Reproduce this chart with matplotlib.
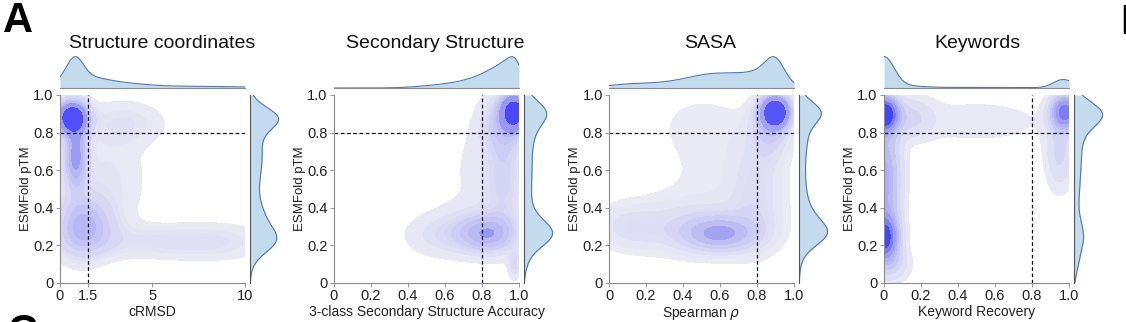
import numpy as np
import matplotlib.pyplot as plt
from matplotlib.colors import LinearSegmentedColormap

plt.rcParams['font.family'] = ['Liberation Sans', 'DejaVu Sans']

W, H = 1126, 322

titles = ['Structure coordinates', 'Secondary Structure', 'SASA', 'Keywords']
xlabels = ['cRMSD', '3-class Secondary Structure Accuracy', r'Spearman $\rho$', 'Keyword Recovery']
xlims = [(0, 10), (0, 1), (0, 1), (0, 1)]
xticks = [[0, 1.5, 5, 10]] + [[0, 0.2, 0.4, 0.6, 0.8, 1.0]] * 3
xticklabels = [['0', '1.5', '5', '10']] + [['0', '0.2', '0.4', '0.6', '0.8', '1.0']] * 3
yticks = [0, 0.2, 0.4, 0.6, 0.8, 1.0]
yticklabels = ['0', '0.2', '0.4', '0.6', '0.8', '1.0']
vcut = [1.5, 0.8, 0.8, 0.8]
hcut = 0.8

# density blobs: x, y, sx, sy, weight
coords_mix = [
    (0.65, 0.88, 0.55, 0.055, 0.16),
    (0.85, 0.68, 0.40, 0.12, 0.12),
    (1.5, 0.30, 1.00, 0.10, 0.14),
    (2.5, 0.55, 1.50, 0.18, 0.12),
    (5.0, 0.22, 3.00, 0.06, 0.09),
    (8.5, 0.22, 2.00, 0.07, 0.05),
    (3.5, 0.85, 1.50, 0.08, 0.06),
    (0.9, 0.30, 0.80, 0.12, 0.06),
]
ss_mix = [
    (0.975, 0.91, 0.045, 0.06, 0.16),
    (0.92, 0.85, 0.08, 0.10, 0.12),
    (0.83, 0.26, 0.10, 0.065, 0.13),
    (0.72, 0.28, 0.15, 0.09, 0.10),
    (0.92, 0.55, 0.07, 0.20, 0.14),
    (0.80, 0.60, 0.12, 0.18, 0.08),
    (0.55, 0.25, 0.12, 0.07, 0.04),
    (0.975, 0.10, 0.02, 0.05, 0.01),
]
sasa_mix = [
    (0.90, 0.91, 0.05, 0.055, 0.14),
    (0.87, 0.82, 0.07, 0.10, 0.07),
    (0.60, 0.26, 0.13, 0.06, 0.13),
    (0.45, 0.30, 0.25, 0.10, 0.16),
    (0.80, 0.50, 0.10, 0.20, 0.12),
    (0.55, 0.60, 0.20, 0.20, 0.08),
    (0.10, 0.30, 0.12, 0.08, 0.04),
    (0.50, 0.85, 0.15, 0.10, 0.03),
]
kw_mix = [
    (0.00, 0.90, 0.05, 0.06, 0.18),
    (0.00, 0.24, 0.05, 0.08, 0.20),
    (0.00, 0.55, 0.06, 0.22, 0.36),
    (0.98, 0.91, 0.05, 0.06, 0.13),
    (0.95, 0.70, 0.05, 0.13, 0.07),
    (0.50, 0.86, 0.30, 0.09, 0.09),
    (0.15, 0.88, 0.08, 0.07, 0.05),
    (0.05, 0.10, 0.06, 0.06, 0.03),
]
mixes = [coords_mix, ss_mix, sasa_mix, kw_mix]

lefts = [60, 334, 609, 884]
title_x = [162, 435, 710, 977]

cmap = LinearSegmentedColormap.from_list('blu', ['#ececf5', '#9a9af2', '#2020ff'])
fill_c = '#c4dbee'
line_c = '#4a7ab0'
spine_c = '#8a8a8a'


def px(x0, y0, w, h):
    return [x0 / W, 1 - (y0 + h) / H, w / W, h / H]


def density(mix, xlim):
    x = np.linspace(xlim[0], xlim[1], 300)
    y = np.linspace(0, 1, 300)
    X, Y = np.meshgrid(x, y)
    Z = np.zeros_like(X)
    for mx, my, sx, sy, w in mix:
        Z += w / (sx * sy) * np.exp(-0.5 * (((X - mx) / sx) ** 2 + ((Y - my) / sy) ** 2))
    return x, y, X, Y, Z


def iso_levels(z, props):
    v = np.sort(z.ravel())[::-1]
    c = np.cumsum(v) / v.sum()
    idx = np.searchsorted(c, 1 - np.asarray(props))
    return np.take(v, idx, mode='clip')


fig = plt.figure(figsize=(W / 100, H / 100), dpi=100)

for i in range(4):
    x, y, X, Y, Z = density(mixes[i], xlims[i])
    lv = iso_levels(Z, np.linspace(0.05, 1, 10))
    lv = np.unique(np.append(lv[:-1], Z.max() * 1.001))

    ax = fig.add_axes(px(lefts[i], 95, 185, 188))
    ax.contourf(X, Y, Z, levels=lv, cmap=cmap)
    ax.axhline(hcut, color='#111133', lw=0.9, ls=(0, (3, 2)))
    ax.axvline(vcut[i], color='#111133', lw=0.9, ls=(0, (3, 2)))
    ax.set_xlim(xlims[i])
    ax.set_ylim(0, 1)
    ax.set_xticks(xticks[i])
    ax.set_xticklabels(xticklabels[i])
    ax.set_yticks(yticks)
    ax.set_yticklabels(yticklabels)
    for s in ['top', 'right']:
        ax.spines[s].set_visible(False)
    for s in ['left', 'bottom']:
        ax.spines[s].set_color(spine_c)
        ax.spines[s].set_linewidth(0.8)
    ax.tick_params(length=3, width=0.6, color=spine_c, labelsize=10.5, labelcolor='#222222', pad=1.5)
    ax.set_xlabel(xlabels[i], fontsize=10, labelpad=1, color='#222222')
    ax.set_ylabel('ESMFold pTM', fontsize=9.5, labelpad=1, color='#222222')

    # top marginal
    mxd = Z.sum(axis=0)
    axt = fig.add_axes(px(lefts[i], 56, 185, 32))
    axt.fill_between(x, 0, mxd, color=fill_c, lw=0)
    axt.plot(x, mxd, color=line_c, lw=0.8)
    axt.set_xlim(xlims[i])
    axt.set_ylim(0, mxd.max() * 1.02)
    axt.set_xticks([])
    axt.set_yticks([])
    for s in ['top', 'right', 'left']:
        axt.spines[s].set_visible(False)
    axt.spines['bottom'].set_color(spine_c)
    axt.spines['bottom'].set_linewidth(0.8)
    axt.patch.set_alpha(0)

    # right marginal
    myd = Z.sum(axis=1)
    axr = fig.add_axes(px(lefts[i] + 190, 95, 30, 188))
    axr.fill_betweenx(y, 0, myd, color=fill_c, lw=0)
    axr.plot(myd, y, color=line_c, lw=0.8)
    axr.set_ylim(0, 1)
    axr.set_xlim(0, myd.max() * 1.05)
    axr.set_xticks([])
    axr.set_yticks([])
    for s in ['top', 'right', 'bottom']:
        axr.spines[s].set_visible(False)
    axr.spines['left'].set_color('#555555')
    axr.spines['left'].set_linewidth(0.8)
    axr.patch.set_alpha(0)

    fig.text(title_x[i] / W, 1 - 44 / H, titles[i], ha='center', va='center', fontsize=14, color='#111111')

fig.text(3 / W, 1 - 21 / H, 'A', fontsize=30, fontweight='bold', va='center', ha='left')
fig.text(1120 / W, 1 - 23 / H, 'B', fontsize=30, fontweight='bold', va='center', ha='left')
fig.text(7 / W, 1 - 333 / H, 'C', fontsize=30, fontweight='bold', va='center', ha='left')

fig.savefig('out.png', dpi=100)
